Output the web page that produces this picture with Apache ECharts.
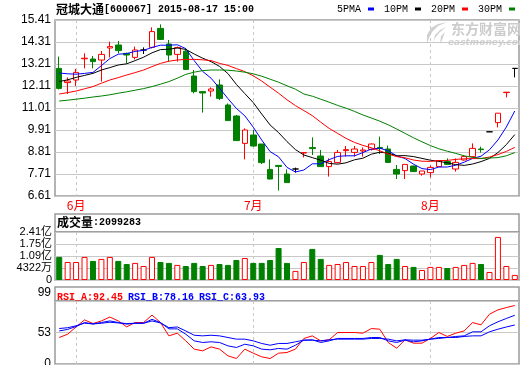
<!DOCTYPE html>
<html><head><meta charset="utf-8">
<script src="https://cdn.jsdelivr.net/npm/echarts@6/dist/echarts.min.js"></script>
<style>html,body{margin:0;padding:0;background:#fff}#c{width:520px;height:365px}</style>
</head><body><div id="c"></div>
<script>
// ---- data ----
const openP  = [12.99,12.28,12.41,13.47,13.46,13.41,14.01,14.16,13.74,13.54,13.91,14.04,14.99,14.21,13.69,13.85,12.61,11.83,11.86,12.16,11.16,10.61,9.24,9.66,9.21,7.94,8.14,7.71,7.96,8.76,9.03,8.61,8.08,8.28,8.88,8.79,8.86,8.94,9.04,8.96,7.94,7.88,8.11,7.71,7.78,8.08,8.33,7.96,8.41,8.58,8.96,9.82,10.28,11.78,12.99];
const closeP = [11.99,12.36,12.79,13.50,13.33,13.69,14.08,13.88,13.66,13.91,13.91,14.83,14.44,13.66,14.03,12.94,11.83,11.76,11.96,11.49,10.38,9.38,9.91,9.11,8.28,7.46,8.09,7.28,7.96,8.78,8.98,8.08,8.33,8.79,8.93,8.96,8.91,9.21,8.99,8.29,7.71,8.19,7.83,7.86,8.04,8.38,8.19,8.29,8.58,8.99,8.93,9.82,10.75,11.80,12.99];
const lowP   = [11.94,11.71,12.11,12.99,12.99,12.33,13.54,13.74,13.24,13.44,13.71,13.99,14.41,13.33,13.33,12.91,11.74,10.78,11.58,11.41,10.38,9.38,8.44,9.08,8.21,7.44,6.88,7.28,7.78,8.54,8.66,8.08,7.58,8.24,8.58,8.58,8.58,8.88,8.71,8.28,7.46,7.46,7.81,7.63,7.54,8.08,8.16,7.83,8.38,8.54,8.78,9.82,10.04,11.54,12.54];
const highP  = [13.58,12.54,12.96,13.74,13.61,13.86,14.33,14.36,13.78,14.08,14.04,15.04,15.19,14.41,14.08,14.00,12.91,11.83,12.04,12.44,11.24,10.66,9.99,9.91,9.21,8.44,8.14,7.94,8.03,8.78,9.54,8.91,8.49,8.91,9.11,9.11,9.04,9.24,9.58,9.13,8.16,8.19,8.13,7.86,8.13,8.38,8.49,8.49,8.66,9.24,9.08,9.82,10.75,11.80,12.99];

const ma5  = [12.76,12.72,12.70,12.74,12.79,13.13,13.48,13.70,13.73,13.84,13.89,14.04,14.15,14.15,14.17,13.98,13.38,12.84,12.50,12.00,11.48,10.99,10.62,10.05,9.41,8.83,8.57,8.04,7.81,7.91,8.22,8.22,8.43,8.59,8.62,8.62,8.78,8.96,9.00,8.87,8.62,8.48,8.20,7.98,7.93,8.06,8.06,8.15,8.30,8.49,8.60,8.92,9.41,10.06,10.86];
const ma10 = [12.33,12.42,12.54,12.64,12.74,12.91,13.03,13.16,13.22,13.38,13.55,13.77,13.93,13.95,14.01,13.94,13.71,13.50,13.33,13.09,12.73,12.19,11.73,11.28,10.71,10.16,9.78,9.33,8.93,8.66,8.53,8.40,8.24,8.20,8.27,8.42,8.50,8.70,8.80,8.75,8.62,8.63,8.58,8.49,8.40,8.34,8.27,8.18,8.14,8.21,8.33,8.49,8.78,9.18,9.68];
const ma20 = [11.71,11.78,11.86,11.97,12.08,12.25,12.41,12.53,12.66,12.78,12.91,13.08,13.24,13.35,13.41,13.44,13.44,13.42,13.38,13.24,13.14,12.98,12.83,12.62,12.36,12.05,11.75,11.42,11.13,10.88,10.63,10.30,9.99,9.74,9.49,9.29,9.14,9.02,8.87,8.71,8.58,8.52,8.41,8.35,8.34,8.38,8.39,8.44,8.47,8.48,8.48,8.56,8.68,8.84,9.04];
const ma30 = [11.36,11.40,11.45,11.50,11.56,11.61,11.67,11.75,11.82,11.90,11.98,12.08,12.20,12.33,12.50,12.69,12.80,12.88,12.91,12.91,12.90,12.86,12.80,12.72,12.60,12.45,12.30,12.12,11.95,11.71,11.60,11.45,11.30,11.14,11.00,10.84,10.66,10.51,10.35,10.17,9.96,9.74,9.52,9.32,9.13,8.97,8.85,8.74,8.62,8.54,8.49,8.51,8.53,8.62,8.78];

// volume, read against the panel's gridlines (one gridline step = 0.66)
const volume = [1.27,0.99,0.99,1.27,1.05,1.16,1.27,1.05,0.88,0.94,0.77,1.27,0.99,0.94,0.83,0.77,0.94,0.77,0.83,0.88,0.83,1.10,1.21,0.94,0.94,1.10,1.76,0.94,0.50,0.99,1.71,1.16,0.83,0.88,0.99,0.77,0.77,0.99,1.38,0.88,1.16,0.77,0.72,0.55,0.72,0.72,0.66,0.72,0.83,0.94,0.88,0.44,2.37,0.77,0.28];

const rsiA = [45.7,50.5,61.2,71.4,66.1,69.9,75.6,69.9,61.2,67.6,67.6,78.5,67.6,48.1,52.0,40.8,28.7,26.2,32.0,28.7,18.9,15.0,28.7,22.8,17.5,15.0,22.8,23.8,28.7,44.3,48.1,40.8,42.3,53.0,53.0,53.0,52.0,58.8,57.8,38.4,30.1,42.3,37.4,37.4,44.3,53.0,47.2,52.0,55.3,67.5,64.2,79.7,86.0,89.4,92.45];
const rsiB = [55.3,57.5,61.8,67.6,65.5,67.6,69.9,67.6,65.2,66.5,66.5,72.2,67.6,58.3,58.3,50.5,40.8,38.4,39.4,38.4,33.5,31.1,35.9,33.5,28.7,27.7,29.7,28.7,34.4,41.8,42.3,38.4,40.8,44.3,44.3,44.3,44.3,45.7,45.7,40.8,38.4,41.8,39.4,40.8,43.3,45.7,45.7,47.2,48.1,54.0,54.0,62.8,68.6,73.5,78.16];
const rsiC = [58.8,60.0,62.8,66.6,65.5,66.5,68.0,67.0,66.1,66.5,66.5,69.9,67.0,60.1,61.1,55.3,49.0,48.1,49.0,48.1,45.7,43.3,43.3,40.8,37.0,34.4,37.0,37.0,39.4,41.8,41.8,40.8,42.3,43.3,43.3,43.3,43.3,44.3,44.3,43.3,40.8,42.3,41.8,41.8,43.3,44.3,45.7,45.7,47.2,48.1,48.1,54.0,57.8,61.1,63.93];

const monthLabels = {2:'6月', 23:'7月', 44:'8月'};   // trading-day index -> label
const volTickLabels = ['0','4322万','1.09亿','1.75亿','2.41亿'];
const rsiTickLabels = {7:'0', 53:'53', 99:'99'};
const legendNames = ['5PMA','10PM','20PM','30PM'];

// ---- build ----
const categories = openP.map((_, i) => 'd' + (i + 1));
const candles = openP.map((o, i) => [o, closeP[i], lowP[i], highP[i]]);
const RED = '#ff0000', GREEN = '#008000', BLUE = '#0000ff', GRID = '#c8c8c8', FRAME = '#9a9a9a';
const volData = volume.map((v, i) => ({
  value: v,
  itemStyle: closeP[i] >= openP[i]
    ? {color: '#ffffff', borderColor: RED, borderWidth: 1}
    : {color: GREEN, borderColor: GREEN, borderWidth: 1}
}));

const L = 55, W = 464;
const monoFont = '"Liberation Mono", "DejaVu Sans Mono", monospace';
const cjkFont = '"Noto Sans CJK SC", sans-serif';

function xAxisFor(gi, showLabel) {
  return {
    type: 'category', gridIndex: gi, data: categories, boundaryGap: true,
    axisLine: {show: false}, axisTick: {show: false},
    axisLabel: {
      show: showLabel, interval: (idx) => monthLabels[idx] !== undefined,
      formatter: (val, idx) => monthLabels[idx] || '',
      color: RED, fontSize: 12, fontFamily: cjkFont, margin: 3
    },
    splitLine: {
      show: true, alignWithLabel: true,
      interval: (idx) => monthLabels[idx] !== undefined,
      lineStyle: {color: GRID, type: [3, 3], width: 1}
    }
  };
}

const gridBase = {left: L, width: W, show: true, borderColor: FRAME, borderWidth: 1.5, containLabel: false, outerBoundsMode: 'none'};

const option = {
  animation: false,
  backgroundColor: '#ffffff',
  title: [
    {left: 56, top: 3, padding: 0, text: '{a|冠城大通}{b|[600067] 2015-08-17 15:00}',
     textStyle: {rich: {a: {fontFamily: cjkFont, fontSize: 12, color: '#000'}, b: {fontFamily: monoFont, fontSize: 10, color: '#000'}}}},
    {left: 57, top: 216, padding: 0, text: '{a|成交量}{b|:2099283}',
     textStyle: {rich: {a: {fontFamily: cjkFont, fontSize: 12, color: '#000'}, b: {fontFamily: monoFont, fontSize: 10, color: '#000'}}}},
    {left: 57, top: 288, padding: 0, text: '{r|RSI_A:92.45} {b|RSI_B:78.16} {b|RSI_C:63.93}',
     textStyle: {rich: {r: {fontFamily: monoFont, fontSize: 10, color: RED}, b: {fontFamily: monoFont, fontSize: 10, color: BLUE}}}}
  ],
  legend: {
    right: 5, top: 4, padding: 0, align: 'right', itemGap: 10,
    itemWidth: 6, itemHeight: 3, icon: 'rect', selectedMode: false,
    data: legendNames,
    textStyle: {fontFamily: monoFont, fontSize: 10, color: '#000', padding: [0, 2, 0, 0]}
  },
  grid: [
    Object.assign({top: 20, height: 176}, gridBase),
    Object.assign({top: 232, height: 48}, gridBase),
    Object.assign({top: 301, height: 63}, gridBase)
  ],
  xAxis: [xAxisFor(0, true), xAxisFor(1, false), xAxisFor(2, false)],
  yAxis: [
    {type: 'value', gridIndex: 0, min: 6.61, max: 15.41, interval: 1.1,
     axisLine: {show: false}, axisTick: {show: false},
     axisLabel: {formatter: (v) => v.toFixed(2), color: '#000', fontSize: 12, fontFamily: '"Liberation Sans", Arial, sans-serif', margin: 4},
     splitLine: {lineStyle: {color: GRID, width: 1}}},
    {type: 'value', gridIndex: 1, min: 0, max: 2.64, interval: 0.66,
     axisLine: {show: false}, axisTick: {show: false},
     axisLabel: {formatter: (v) => volTickLabels[Math.round(v / 0.66)], color: '#000', fontSize: 11, fontFamily: '"Liberation Sans", "Noto Sans CJK SC", sans-serif', margin: 3},
     splitLine: {lineStyle: {color: GRID, width: 1}}},
    {type: 'value', gridIndex: 2, min: 7, max: 99, interval: 46,
     axisLine: {show: false}, axisTick: {show: false},
     axisLabel: {
       formatter: (v) => { const t = rsiTickLabels[Math.round(v)]; return Math.round(v) === 99 ? '{up|' + t + '}' : t; },
       rich: {up: {fontSize: 12, fontFamily: '"Liberation Sans", Arial, sans-serif', color: '#000', padding: [0, 0, 16, 0]}},
       color: '#000', fontSize: 12, fontFamily: '"Liberation Sans", Arial, sans-serif', margin: 4},
     splitLine: {lineStyle: {color: GRID, width: 1}}}
  ],
  graphic: [
    {type: 'rect', shape: {x: L, y: 214, width: W, height: 18}, style: {fill: 'none', stroke: FRAME, lineWidth: 1.5}, silent: true},
    {type: 'rect', shape: {x: L, y: 287, width: W, height: 14}, style: {fill: 'none', stroke: FRAME, lineWidth: 1.5}, silent: true},
    {type: 'polygon', silent: true, z: 0,
     shape: {points: [[447,22],[438,24],[431,28],[427,35],[427,44],[429,38],[432,32],[438,26]]},
     style: {fill: '#d0d0d0'}},
    {type: 'polygon', silent: true, z: 0,
     shape: {points: [[446,27],[440,30],[435,35],[433,43],[435,38],[439,33]]},
     style: {fill: '#d0d0d0'}},
    {type: 'polygon', silent: true, z: 0,
     shape: {points: [[445,32],[441,36],[440,44],[442,40]]},
     style: {fill: '#d0d0d0'}},
    {type: 'text', left: 451, top: 22, z: 0, silent: true,
     style: {text: '东方财富网', fill: '#cccccc', font: 'bold 14px "Noto Sans CJK SC", sans-serif'}},
    {type: 'text', left: 448, top: 38, z: 0, silent: true,
     style: {text: 'eastmoney.com', fill: '#d2d2d2', font: 'italic bold 9px "DejaVu Sans", sans-serif'}}
  ],
  series: [
    {type: 'candlestick', name: 'K', xAxisIndex: 0, yAxisIndex: 0, data: candles, barWidth: 6,
     itemStyle: {color: '#ffffff', color0: GREEN, borderColor: RED, borderColor0: GREEN, borderColorDoji: '#000000', borderWidth: 1}},
    {type: 'line', name: '5PMA', xAxisIndex: 0, yAxisIndex: 0, data: ma5, showSymbol: false, symbol: 'none', color: BLUE, lineStyle: {width: 1, color: BLUE}},
    {type: 'line', name: '10PM', xAxisIndex: 0, yAxisIndex: 0, data: ma10, showSymbol: false, symbol: 'none', color: '#000000', lineStyle: {width: 1, color: '#000000'}},
    {type: 'line', name: '20PM', xAxisIndex: 0, yAxisIndex: 0, data: ma20, showSymbol: false, symbol: 'none', color: RED, lineStyle: {width: 1, color: RED}},
    {type: 'line', name: '30PM', xAxisIndex: 0, yAxisIndex: 0, data: ma30, showSymbol: false, symbol: 'none', color: GREEN, lineStyle: {width: 1, color: GREEN}},
    {type: 'bar', name: 'VOL', xAxisIndex: 1, yAxisIndex: 1, data: volData, barWidth: 6},
    {type: 'line', name: 'RSI_A', xAxisIndex: 2, yAxisIndex: 2, data: rsiA, showSymbol: false, symbol: 'none', lineStyle: {width: 1, color: RED}},
    {type: 'line', name: 'RSI_B', xAxisIndex: 2, yAxisIndex: 2, data: rsiB, showSymbol: false, symbol: 'none', lineStyle: {width: 1, color: BLUE}},
    {type: 'line', name: 'RSI_C', xAxisIndex: 2, yAxisIndex: 2, data: rsiC, showSymbol: false, symbol: 'none', lineStyle: {width: 1, color: BLUE}}
  ]
};
const chart = echarts.init(document.getElementById('c'), null, {renderer: 'canvas'});
chart.setOption(option);
</script>
</body></html>
